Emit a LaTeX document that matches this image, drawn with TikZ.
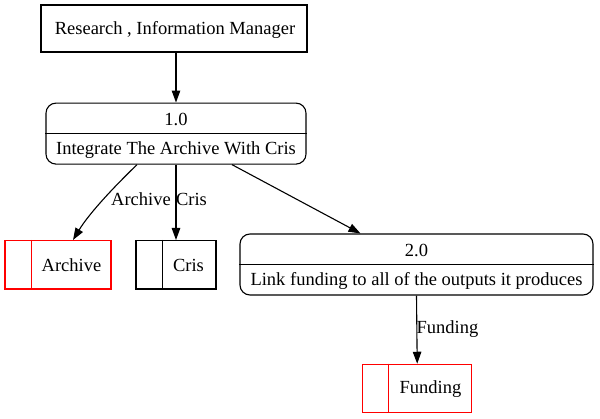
\documentclass[tikz,border=0pt]{standalone}
\usepackage{fontspec}
\setmainfont{Liberation Serif}
\usetikzlibrary{arrows.meta,calc}
\begin{document}
\begin{tikzpicture}[x=1pt,y=-1pt,
  every node/.style={font=\fontsize{18.5}{21}\selectfont, inner sep=0pt},
  ext/.style={draw, line width=1.1pt, minimum width=266pt, minimum height=47pt},
  proc/.style={draw, line width=1.1pt, rounded corners=10pt},
  store/.style={draw, line width=1.1pt},
  redstore/.style={store, draw=red},
  lbl/.style={font=\fontsize{18.5}{21}\selectfont},
  flow/.style={line width=1.1pt, -{Triangle[length=12pt,width=8.5pt]}}]
\useasboundingbox (0,0) rectangle (600,419);
% external entity
\node[ext] (t) at (174,28.5) {};
\node (tt) at (175,29.5) {Research , Information Manager};
% process 1.0
\node[proc, minimum width=260pt, minimum height=61pt] (p1) at (176,133.6) {};
\draw[line width=1.1pt] (p1.west) -- (p1.east);
\node (p1a) at (176,119.5) {1.0};
\node (p1b) at (176,150) {Integrate The Archive With Cris};
% process 2.0
\node[proc, minimum width=353pt, minimum height=61pt] (p2) at (416.5,264.5) {};
\draw[line width=1.1pt] (p2.west) -- (p2.east);
\node (p2a) at (416.5,250.5) {2.0};
\node (p2b) at (416.5,281) {Link funding to all of the outputs it produces};
% stores
\node[redstore, minimum width=106pt, minimum height=48.5pt] (arch) at (58,264.8) {};
\draw[red, line width=1.1pt] (arch.north west) ++(27,0) coordinate (archd) -- (archd |- arch.south);
\node (archt) at (71.5,265.5) {Archive};
\node[store, minimum width=80pt, minimum height=48.5pt] (cris) at (176,264.8) {};
\draw[line width=1.1pt] (cris.north west) ++(27,0) coordinate (crisd) -- (crisd |- cris.south);
\node (crist) at (188.5,265.5) {Cris};
\node[redstore, minimum width=109pt, minimum height=48pt] (fund) at (417.2,388.3) {};
\draw[red, line width=1.1pt] (fund.north west) ++(26.6,0) coordinate (fundd) -- (fundd |- fund.south);
\node (fundt) at (430.5,389) {Funding};
% flows
\draw[flow] (t.south -| p1.north) -- (p1.north);
\draw[flow] ($(p1.south)+(-39,0)$) .. controls (117,184) and (90,212) .. ($(arch.north)+(15,0)$);
\node[lbl] (l1) at (141,199) {Archive};
\draw[flow] (p1.south) -- (cris.north);
\node[lbl] (l2) at (191.5,199) {Cris};
\draw[flow] ($(p1.south)+(56,0)$) -- ($(p2.north)+(-56,0)$);
\draw[flow] (p2.south) -- (fund.north);
\node[lbl] (l3) at (447.5,329.5) {Funding};
\end{tikzpicture}
\end{document}
